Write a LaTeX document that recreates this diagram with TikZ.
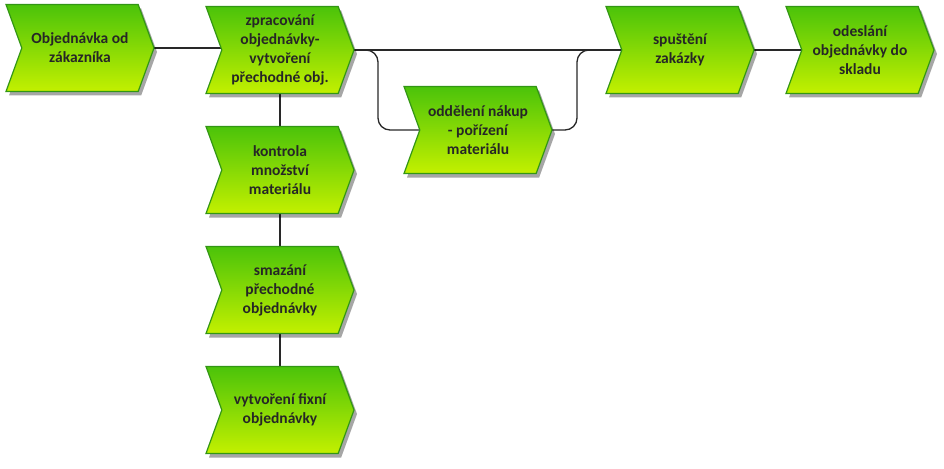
\documentclass[tikz,border=0pt]{standalone}
\usepackage{fontspec}
\setmainfont{Carlito}
\usetikzlibrary{shapes.symbols,shadows,backgrounds}
\definecolor{epctop}{RGB}{75,195,10}
\definecolor{epcbot}{RGB}{195,240,0}
\definecolor{epcline}{RGB}{50,150,20}
\definecolor{conn}{RGB}{40,40,40}
\tikzset{
  func/.style={signal, signal to=east, signal from=west, signal pointer angle=140,
    minimum width=148pt, minimum height=87pt, inner sep=0pt,
    draw=epcline, line width=1.2pt, top color=epctop, bottom color=epcbot,
    drop shadow={shadow xshift=3pt, shadow yshift=-4pt, opacity=0.35, fill=black},
    align=center, font=\bfseries\fontsize{15.5}{19}\selectfont, text=black!85},
  conline/.style={draw=conn, line width=1.3pt},
}
\begin{document}
\begin{tikzpicture}[x=1pt,y=-1pt]
\useasboundingbox (0,0) rectangle (944,468);
\node[func] (n1) at (80,48) {Objednávka od\\zákazníka};
\node[func] (n2) at (280,50) {zpracování\\objednávky-\\vytvoření\\přechodné obj.};
\node[func] (n3) at (280,170) {kontrola\\množství\\materiálu};
\node[func] (n4) at (280,290) {smazání\\přechodné\\objednávky};
\node[func] (n5) at (280,410) {vytvoření fixní\\objednávky};
\node[func] (n6) at (478,130) {oddělení nákup\\- pořízení\\materiálu};
\node[func] (n7) at (680,50) {spuštění\\zakázky};
\node[func] (n8) at (860,50) {odeslání\\objednávky do\\skladu};
\coordinate (bl) at (378,0);
\coordinate (br) at (577,0);
\begin{scope}[on background layer]
\draw[conline] (n1.center) -- (n1.center -| n2.center);
\draw[conline] (n2.center) -- (n7.center);
\draw[conline] (n7.center) -- (n8.center);
\draw[conline] (n2.center) -- (n3.center);
\draw[conline] (n3.center) -- (n4.center);
\draw[conline] (n4.center) -- (n5.center);
\draw[conline, rounded corners=12pt] (n2.east |- n7.center) -| (bl |- n6.center) -- (n6.center);
\draw[conline, rounded corners=12pt] (n6.center) -| (br |- n7.center) -- ([xshift=14pt]br |- n7.center);
\end{scope}
\end{tikzpicture}
\end{document}
